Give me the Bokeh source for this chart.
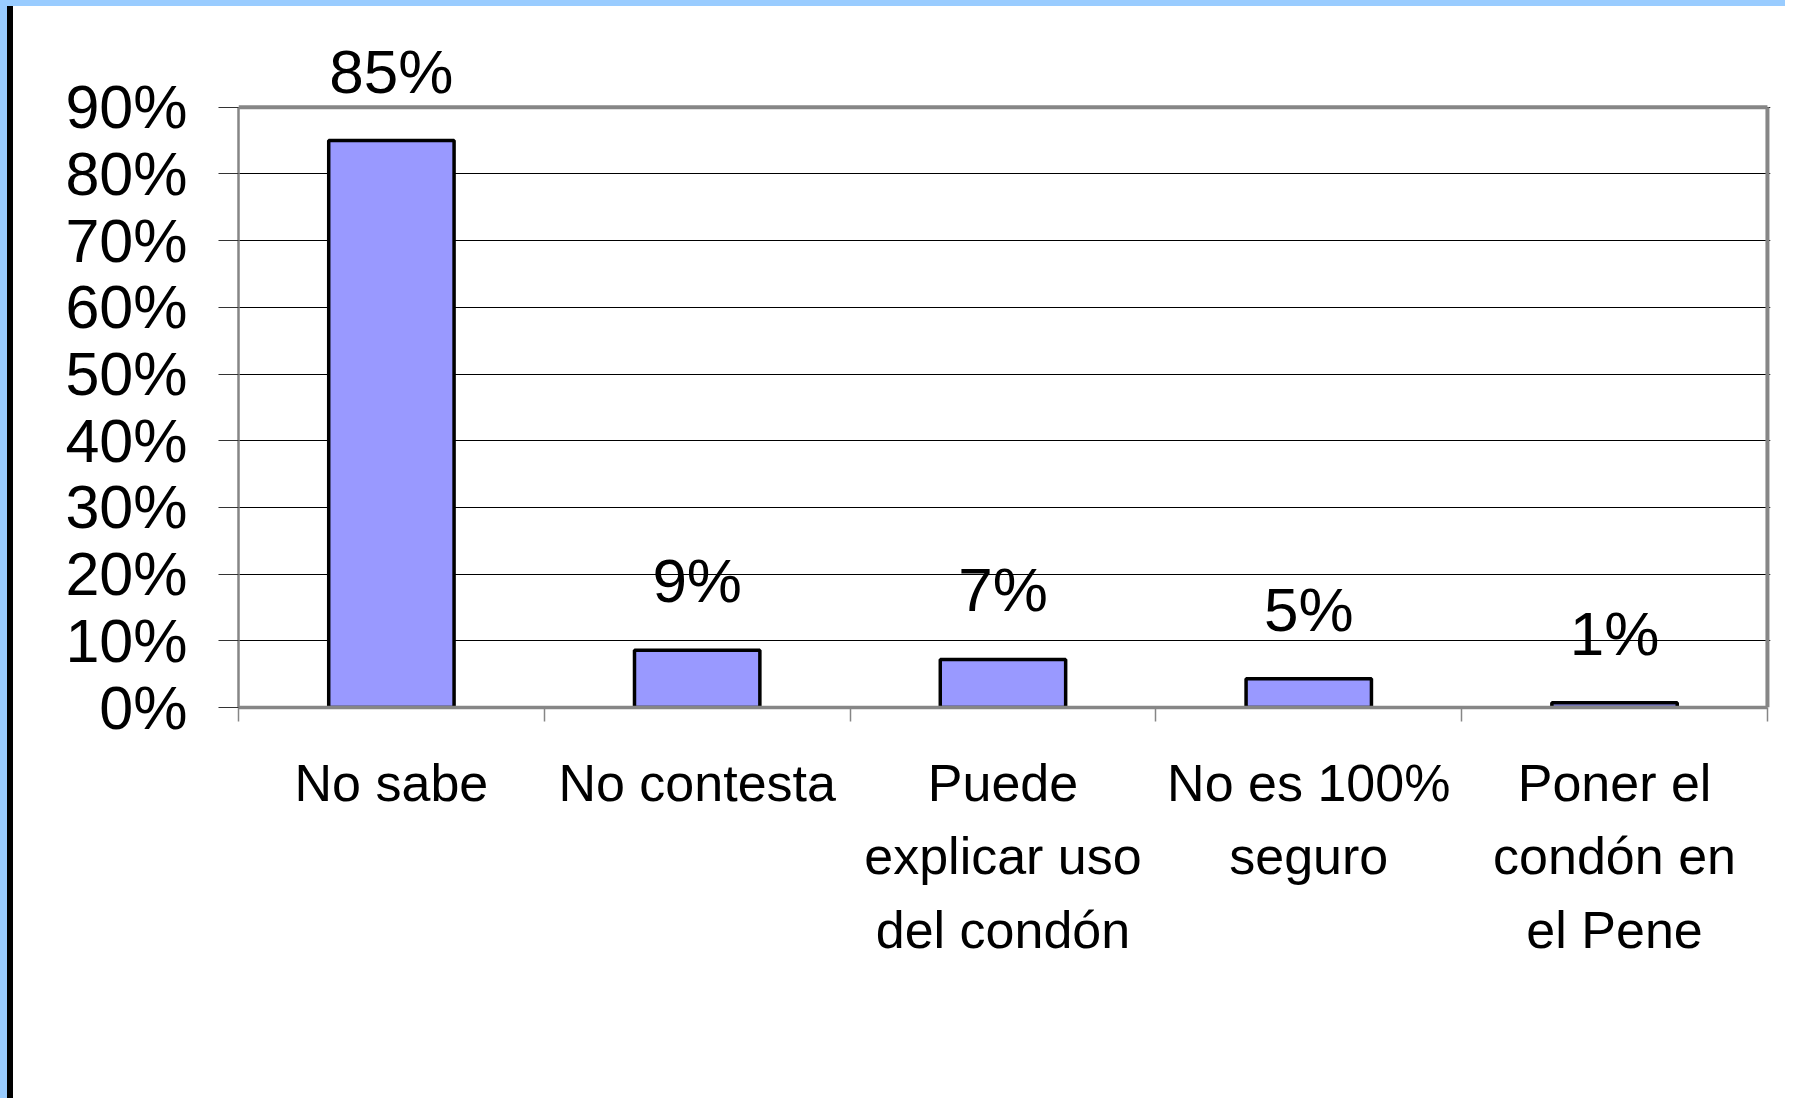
from bokeh.plotting import figure
from bokeh.models import Range1d, FixedTicker, PrintfTickFormatter, ColumnDataSource, LabelSet
from bokeh.core.properties import value
from bokeh.embed import file_html
from bokeh.resources import INLINE

categories = ["No sabe", "No contesta", "Puede explicar uso del condón",
              "No es 100% seguro", "Poner el condón en el Pene"]
category_lines = ["No sabe", "No contesta", "Puede\nexplicar uso\ndel condón",
                  "No es 100%\nseguro", "Poner el\ncondón en\nel Pene"]
values = [85, 8.6, 7.2, 4.3, 0.7]
value_labels = ["85%", "9%", "7%", "5%", "1%"]
y_ticks = [0, 10, 20, 30, 40, 50, 60, 70, 80, 90]

n = len(categories)
xs = list(range(1, n + 1))
src = ColumnDataSource(dict(x=xs, top=values, label=value_labels))

FONT = "Liberation Sans"
GRAY = "#868686"
y_max = y_ticks[-1]

p = figure(width=1785, height=1098,
           x_range=Range1d(0.5, n + 0.51), y_range=Range1d(0, 100),
           output_backend="svg", toolbar_location=None,
           min_border_left=225, min_border_right=28,
           min_border_top=34, min_border_bottom=397)
p.styles = {"border-top": "6px solid #99CCFF",
            "border-left": "7px solid #99CCFF",
            "padding-left": "6px",
            "background": "linear-gradient(to right, #000 0px, #000 6px, #fff 6px)"}
p.background_fill_color = "white"
p.border_fill_color = "white"
p.outline_line_color = None

p.xgrid.grid_line_color = None
p.ygrid.ticker = FixedTicker(ticks=y_ticks)
p.ygrid.grid_line_color = "black"
p.ygrid.grid_line_width = 1

# plot-area border (top and right)
p.segment(x0=[0.5, n + 0.5], y0=[y_max, 0], x1=[n + 0.5, n + 0.5], y1=[y_max, y_max],
          line_color=GRAY, line_width=4)

p.vbar(x="x", top="top", width=0.41, source=src,
       fill_color="#9999FF", line_color="black", line_width=3.5)

labels = LabelSet(x="x", y="top", text="label", source=src, y_offset=48,
                  text_align="center", text_baseline="alphabetic",
                  text_font=value(FONT), text_font_size="62px", text_color="black")
p.add_layout(labels)

# x axis
xa = p.xaxis[0]
xa.bounds = (0.5, n + 0.5)
xa.ticker = FixedTicker(ticks=xs, minor_ticks=[i + 0.5 for i in range(0, n + 1)])
xa.major_label_overrides = {x: lab for x, lab in zip(xs, category_lines)}
xa.major_tick_line_color = None
xa.minor_tick_line_color = GRAY
xa.minor_tick_line_width = 1.5
xa.minor_tick_out = 14
xa.minor_tick_in = 0
xa.axis_line_color = GRAY
xa.axis_line_width = 3.5
xa.major_label_text_font = FONT
xa.major_label_text_font_size = "52px"
xa.major_label_text_color = "black"
xa.major_label_text_line_height = 1.27
xa.major_label_standoff = 32
xa.major_label_orientation = "horizontal"

# y axis
ya = p.yaxis[0]
ya.bounds = (0, y_max)
ya.ticker = FixedTicker(ticks=y_ticks)
ya.formatter = PrintfTickFormatter(format="%d%%")
ya.minor_tick_line_color = None
ya.major_tick_out = 20
ya.major_tick_in = 0
ya.major_tick_line_color = "#333333"
ya.major_tick_line_width = 1
ya.axis_line_color = GRAY
ya.axis_line_width = 2.5
ya.major_label_text_font = FONT
ya.major_label_text_font_size = "61px"
ya.major_label_text_color = "black"
ya.major_label_standoff = 31

open("out.html", "w").write(file_html(p, INLINE))
